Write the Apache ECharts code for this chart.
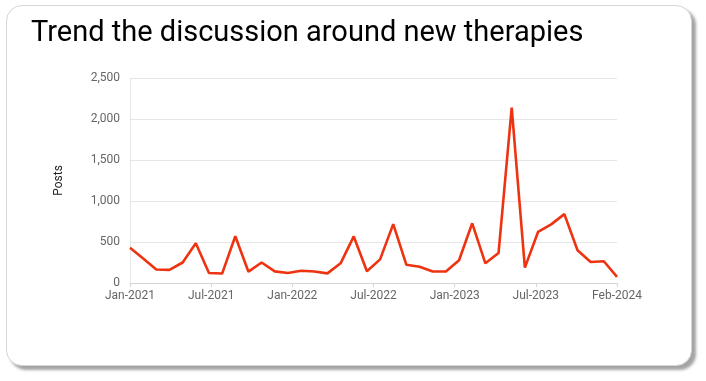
<!DOCTYPE html>
<html>
<head>
<meta charset="utf-8">
<script src="https://cdn.jsdelivr.net/npm/echarts@6/dist/echarts.min.js"></script>
<style>
html,body{margin:0;padding:0;background:#fff;}
#card{position:absolute;left:6px;top:5px;width:684px;height:359px;border:1.5px solid #d6d6d6;border-radius:16px;box-shadow:4px 4px 3px #a4a4a4;background:#fff;}
#chart{position:absolute;left:0;top:0;width:706px;height:381px;}
</style>
</head>
<body>
<div id="card"></div>
<div id="chart"></div>
<script>
const months = ["Jan-2021","Feb-2021","Mar-2021","Apr-2021","May-2021","Jun-2021","Jul-2021","Aug-2021","Sep-2021","Oct-2021","Nov-2021","Dec-2021",
  "Jan-2022","Feb-2022","Mar-2022","Apr-2022","May-2022","Jun-2022","Jul-2022","Aug-2022","Sep-2022","Oct-2022","Nov-2022","Dec-2022",
  "Jan-2023","Feb-2023","Mar-2023","Apr-2023","May-2023","Jun-2023","Jul-2023","Aug-2023","Sep-2023","Oct-2023","Nov-2023","Dec-2023",
  "Jan-2024","Feb-2024"];
const posts = [430, 300, 165, 160, 250, 485, 122, 115, 570, 138, 250, 142,
  122, 150, 140, 117, 240, 568, 143, 288, 718, 222, 198, 140,
  140, 278, 728, 240, 365, 2140, 188, 622, 715, 840, 400, 256,
  265, 74];
const tickLabels = ["Jan-2021","Jul-2021","Jan-2022","Jul-2022","Jan-2023","Jul-2023","Feb-2024"];
const yTicks = [0, 500, 1000, 1500, 2000, 2500];

const lastIdx = months.length - 1;
const step = lastIdx / (tickLabels.length - 1);
const chart = echarts.init(document.getElementById('chart'));
chart.setOption({
  animation: false,
  title: {
    text: 'Trend the discussion around new therapies',
    left: 26, top: 14,
    textStyle: {fontFamily: 'Roboto', fontSize: 29, fontWeight: 'normal', color: '#000'}
  },
  grid: {left: 130, right: 89, top: 78, bottom: 98, containLabel: false},
  xAxis: {
    type: 'value', min: 0, max: lastIdx, interval: step,
    axisLine: {show: true, lineStyle: {color: '#d6d6d6'}},
    axisTick: {show: true, length: 4, lineStyle: {color: '#d6d6d6'}},
    splitLine: {show: false},
    axisLabel: {
      color: '#666', fontFamily: 'Roboto', fontSize: 12, margin: 7,
      showMinLabel: true, showMaxLabel: true,
      formatter: v => tickLabels[Math.round(v / step)] || ''
    }
  },
  yAxis: {
    type: 'value', min: yTicks[0], max: yTicks[yTicks.length - 1], interval: 500,
    name: 'Posts', nameLocation: 'middle', nameGap: 65, nameRotate: 90,
    nameTextStyle: {color: '#222', fontFamily: 'Roboto', fontSize: 12},
    axisLine: {show: true, lineStyle: {color: '#e6e6e6'}},
    axisTick: {show: false},
    splitLine: {lineStyle: {color: '#e6e6e6'}},
    axisLabel: {
      color: '#666', fontFamily: 'Roboto', fontSize: 12, margin: 10,
      formatter: v => v.toLocaleString('en-US')
    }
  },
  series: [{
    type: 'line',
    data: posts.map((v, i) => [i, v]),
    showSymbol: false,
    lineStyle: {color: '#ee3311', width: 2.6},
    itemStyle: {color: '#ee3311'}
  }]
});
</script>
</body>
</html>
